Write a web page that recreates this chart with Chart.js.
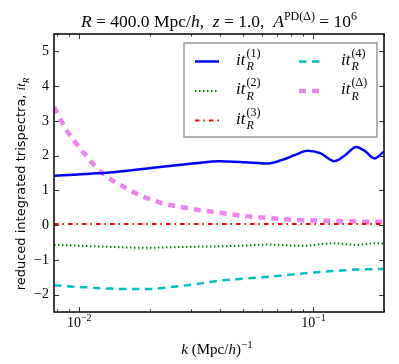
<!DOCTYPE html>
<html>
<head>
<meta charset="utf-8">
<script src="https://cdn.jsdelivr.net/npm/chart.js@4/dist/chart.umd.min.js"></script>
<style>
  html, body { margin: 0; padding: 0; background: #fff; }
  canvas { display: block; }
</style>
</head>
<body>
<canvas id="chart" width="399" height="364"></canvas>
<script>
// k in (Mpc/h)^-1
const kValues = [0.0078, 0.0089, 0.0098, 0.0106, 0.0117, 0.0128, 0.0142, 0.0157, 0.0178, 0.0200,
                 0.0232, 0.0272, 0.0312, 0.0395, 0.051, 0.063, 0.073, 0.0835, 0.094, 0.107,
                 0.123, 0.137, 0.152, 0.166, 0.182, 0.200];

const it1 = [1.42, 1.44, 1.46, 1.47, 1.49, 1.50, 1.53, 1.56, 1.60, 1.64,
             1.69, 1.74, 1.78, 1.84, 1.81, 1.77, 1.87, 2.02, 2.14, 2.07,
             1.84, 2.02, 2.25, 2.13, 1.92, 2.12];
const it2 = [-0.57, -0.58, -0.59, -0.60, -0.61, -0.62, -0.63, -0.64, -0.65, -0.65,
             -0.64, -0.63, -0.62, -0.61, -0.59, -0.56, -0.57, -0.59, -0.59, -0.55,
             -0.52, -0.55, -0.57, -0.55, -0.52, -0.53];
const it3 = [0.03, 0.03, 0.03, 0.03, 0.03, 0.03, 0.03, 0.03, 0.03, 0.03,
             0.03, 0.03, 0.03, 0.03, 0.03, 0.03, 0.03, 0.03, 0.03, 0.03,
             0.03, 0.03, 0.03, 0.03, 0.03, 0.03];
const it4 = [-1.73, -1.76, -1.78, -1.79, -1.81, -1.82, -1.83, -1.84, -1.84, -1.84,
             -1.80, -1.75, -1.70, -1.60, -1.54, -1.49, -1.45, -1.41, -1.38, -1.35,
             -1.32, -1.30, -1.28, -1.27, -1.27, -1.26];
const itDelta = [3.40, 2.69, 2.31, 2.03, 1.69, 1.45, 1.24, 1.08, 0.88, 0.75,
                 0.61, 0.52, 0.45, 0.36, 0.26, 0.21, 0.18, 0.15, 0.14, 0.13,
                 0.12, 0.11, 0.11, 0.10, 0.10, 0.10];

const seriesLabels = ['(1)', '(2)', '(3)', '(4)', '(\u0394)'];
const yTicks = [-2, -1, 0, 1, 2, 3, 4, 5];
const xMajorTicks = [0.01, 0.1];
const xMinorTicks = [0.008, 0.009, 0.02, 0.03, 0.04, 0.05, 0.06, 0.07, 0.08, 0.09, 0.2];
const xTickExp = ['\u22122', '\u22121'];

const SERIF = '"Liberation Serif", "DejaVu Serif", serif';
const SANS = '"DejaVu Sans", sans-serif';

function fnt(size, italic, family) {
    return (italic ? 'italic ' : '') + size + 'px ' + (family || SERIF);
}

// parts: {t, i (italic), sup, sub, f (family)}
function partSize(p, size) { return (p.sup || p.sub) ? Math.round(size * 0.7) : size; }

function richWidth(ctx, parts, size) {
    let w = 0;
    parts.forEach(p => {
        ctx.font = fnt(partSize(p, size), p.i, p.f);
        w += ctx.measureText(p.t).width;
    });
    return w;
}

function drawRich(ctx, parts, x, y, size, align) {
    const w = richWidth(ctx, parts, size);
    let cx = align === 'center' ? x - w / 2 : x;
    ctx.textAlign = 'left';
    ctx.textBaseline = 'alphabetic';
    parts.forEach(p => {
        const s = partSize(p, size);
        const dy = p.sup ? -size * 0.42 : (p.sub ? size * 0.3 : 0);
        ctx.font = fnt(s, p.i, p.f);
        ctx.fillText(p.t, cx, y + dy);
        cx += ctx.measureText(p.t).width;
    });
}

// "it_R^(n)" with stacked sub/superscript
function drawItLabel(ctx, x, y, size, sup) {
    ctx.textAlign = 'left';
    ctx.textBaseline = 'alphabetic';
    ctx.font = fnt(size, true);
    ctx.fillText('it', x, y);
    const w = ctx.measureText('it').width + 1;
    ctx.font = fnt(Math.round(size * 0.7), true);
    ctx.fillText('R', x + w, y + size * 0.33);
    ctx.font = fnt(Math.round(size * 0.7), false);
    ctx.fillText(sup, x + w, y - size * 0.45);
}

const decorPlugin = {
    id: 'decor',
    afterDatasetsDraw(chart) {
        const ctx = chart.ctx;
        const area = chart.chartArea;
        const xs = chart.scales.x;
        const ys = chart.scales.y;
        ctx.save();

        // inside ticks on all four sides
        ctx.strokeStyle = '#333';
        ctx.lineWidth = 1;
        ctx.beginPath();
        yTicks.forEach(v => {
            const py = Math.round(ys.getPixelForValue(v)) + 0.5;
            ctx.moveTo(area.left, py); ctx.lineTo(area.left + 5, py);
            ctx.moveTo(area.right, py); ctx.lineTo(area.right - 5, py);
        });
        xMajorTicks.forEach(v => {
            const px = Math.round(xs.getPixelForValue(v)) + 0.5;
            ctx.moveTo(px, area.bottom); ctx.lineTo(px, area.bottom - 5);
            ctx.moveTo(px, area.top); ctx.lineTo(px, area.top + 5);
        });
        xMinorTicks.forEach(v => {
            const px = Math.round(xs.getPixelForValue(v)) + 0.5;
            ctx.moveTo(px, area.bottom); ctx.lineTo(px, area.bottom - 2.5);
            ctx.moveTo(px, area.top); ctx.lineTo(px, area.top + 2.5);
        });
        ctx.stroke();

        // frame
        ctx.strokeStyle = '#000';
        ctx.lineWidth = 1.5;
        ctx.strokeRect(area.left, area.top, area.right - area.left, area.bottom - area.top);

        // x tick labels 10^-2, 10^-1
        ctx.fillStyle = '#000';
        xMajorTicks.forEach((v, i) => {
            const px = xs.getPixelForValue(v);
            drawRich(ctx, [{t: '10'}, {t: xTickExp[i], sup: true}], px, area.bottom + 15, 14, 'center');
        });

        // title
        drawRich(ctx, [
            {t: 'R', i: true}, {t: ' = 400.0 Mpc/'}, {t: 'h', i: true}, {t: ',  '},
            {t: 'z', i: true}, {t: ' = 1.0,  '}, {t: 'A', i: true},
            {t: 'PD(\u0394)', sup: true}, {t: ' = 10'}, {t: '6', sup: true}
        ], (area.left + area.right) / 2, 27, 17.5, 'center');

        // x axis title
        drawRich(ctx, [
            {t: 'k', i: true}, {t: ' (Mpc/'}, {t: 'h', i: true}, {t: ')'}, {t: '\u22121', sup: true}
        ], (area.left + area.right) / 2 - 2, 354, 15, 'center');

        // y axis title
        ctx.save();
        ctx.translate(25, 184);
        ctx.rotate(-Math.PI / 2);
        const yParts = [
            {t: 'reduced integrated trispectra, ', f: SANS},
            {t: 'it', i: true}, {t: 'R', i: true, sub: true}
        ];
        drawRich(ctx, yParts, 0, 0, 13, 'center');
        ctx.restore();

        // legend
        const box = {x: 184, y: 43, w: 193, h: 94};
        ctx.fillStyle = '#fff';
        ctx.fillRect(box.x, box.y, box.w, box.h);
        ctx.strokeStyle = '#999';
        ctx.lineWidth = 1.5;
        ctx.strokeRect(box.x, box.y, box.w, box.h);
        const cols = [{lx: 195, lw: 24, tx: 236}, {lx: 299, lw: 22, tx: 341}];
        const rowsY = [61.5, 91, 120.5];
        chart.data.datasets.forEach((ds, i) => {
            const col = i < 3 ? cols[0] : cols[1];
            const row = i < 3 ? i : i - 3;
            const y = rowsY[row];
            ctx.save();
            ctx.strokeStyle = ds.borderColor;
            ctx.lineWidth = ds.borderWidth;
            ctx.setLineDash(ds.borderDash || []);
            ctx.beginPath();
            ctx.moveTo(col.lx, y);
            ctx.lineTo(col.lx + col.lw, y);
            ctx.stroke();
            ctx.restore();
            ctx.fillStyle = '#000';
            drawItLabel(ctx, col.tx, y + 3, 17, seriesLabels[i]);
        });

        ctx.restore();
    }
};

const mkData = arr => kValues.map((k, i) => ({x: k, y: arr[i]}));

new Chart(document.getElementById('chart'), {
    type: 'line',
    data: {
        datasets: [
            {data: mkData(it1), borderColor: '#0000ff', borderWidth: 2.5, borderDash: []},
            {data: mkData(it2), borderColor: '#008000', borderWidth: 2, borderDash: [1.5, 2.5]},
            {data: mkData(it3), borderColor: '#ff0000', borderWidth: 2, borderDash: [4.5, 4, 1.5, 4]},
            {data: mkData(it4), borderColor: '#00bfbf', borderWidth: 2.5, borderDash: [7.5, 5.5]},
            {data: mkData(itDelta), borderColor: '#ee82ee', borderWidth: 4.5, borderDash: [7, 6]}
        ]
    },
    options: {
        responsive: false,
        animation: false,
        events: [],
        layout: {padding: {top: 34, right: 15, left: 0, bottom: 0}},
        elements: {
            point: {radius: 0},
            line: {cubicInterpolationMode: 'monotone', fill: false}
        },
        plugins: {legend: {display: false}, title: {display: false}, tooltip: {enabled: false}},
        scales: {
            x: {
                type: 'logarithmic',
                min: 0.0078,
                max: 0.2,
                grid: {display: false, drawTicks: false},
                border: {display: false},
                ticks: {display: false},
                afterFit: s => { s.height = 52; }
            },
            y: {
                type: 'linear',
                min: -2.5,
                max: 5.5,
                grid: {display: false, drawTicks: false},
                border: {display: false},
                afterBuildTicks: s => { s.ticks = yTicks.map(v => ({value: v})); },
                afterFit: s => { s.width = 54; },
                ticks: {
                    padding: 5,
                    color: '#000',
                    font: {family: SERIF, size: 14},
                    callback: v => String(v).replace('-', '\u2212')
                }
            }
        }
    },
    plugins: [decorPlugin]
});
</script>
</body>
</html>
